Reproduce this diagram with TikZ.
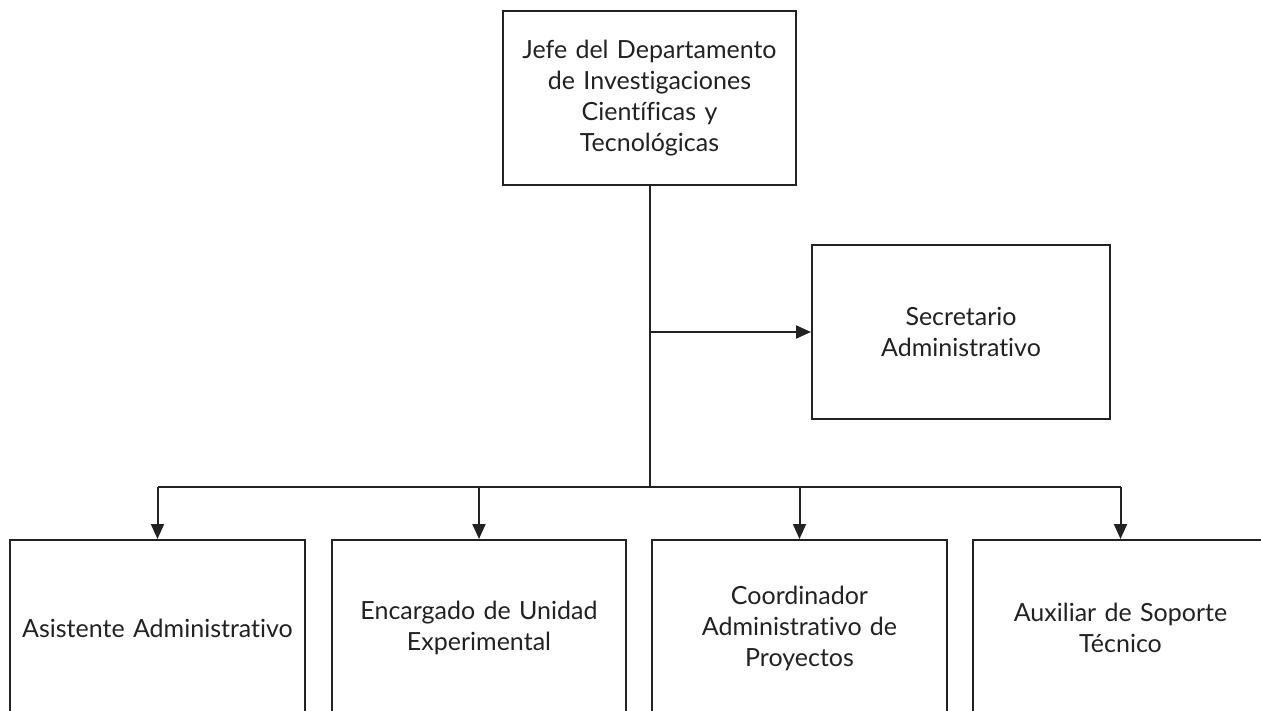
\documentclass[tikz,border=0pt]{standalone}
\usepackage{fontspec}
\setmainfont{Lato}[RawFeature={-liga;-dlig}]
\usetikzlibrary{arrows.meta}
\definecolor{ink}{HTML}{222222}
\tikzset{
  box/.style={draw=ink, line width=2pt, text=ink, align=center, inner sep=0pt,
    font=\fontsize{25}{31}\selectfont, minimum height=174pt},
  link/.style={draw=ink, line width=2pt},
  arr/.style={link, -{Triangle[width=13pt,length=15pt]}}
}
\begin{document}
\begin{tikzpicture}[x=1pt,y=-1pt]
\useasboundingbox (0,0) rectangle (1261,710);
\clip (0,0) rectangle (1261,710);
\fill[white] (0,0) rectangle (1261,710);
\node[box, minimum width=293pt, text width=280pt] (jefe) at (649.5,98)
  {\raisebox{-5pt}{\parbox{280pt}{\centering Jefe del Departamento\\de Investigaciones\\Científicas y\\Tecnológicas}}};
\node[box, minimum width=298pt, text width=280pt] (sec) at (961,332)
  {Secretario\\Administrativo};
\node[box, minimum width=295pt, minimum height=176pt, text width=285pt] (b1) at (157.5,628)
  {Asistente Administrativo};
\node[box, minimum width=294pt, minimum height=176pt, text width=285pt] (b2) at (479,628)
  {Encargado de Unidad\\Experimental};
\node[box, minimum width=295pt, minimum height=176pt, text width=285pt] (b3) at (799.5,628)
  {Coordinador\\Administrativo de\\Proyectos};
\node[box, minimum width=295pt, minimum height=176pt, text width=285pt] (b4) at (1120.5,628)
  {Auxiliar de Soporte\\Técnico};
\coordinate (hub) at (649.5,487);
\coordinate (mid) at (jefe.south |- sec.west);
\draw[link] (jefe.south) -- (hub);
\draw[arr] (mid) -- (sec.west);
\draw[link] (b1.north |- hub) -- (b4.north |- hub);
\draw[arr] (b1.north |- hub) -- (b1.north);
\draw[arr] (b2.north |- hub) -- (b2.north);
\draw[arr] (b3.north |- hub) -- (b3.north);
\draw[arr] (b4.north |- hub) -- (b4.north);
\end{tikzpicture}
\end{document}
